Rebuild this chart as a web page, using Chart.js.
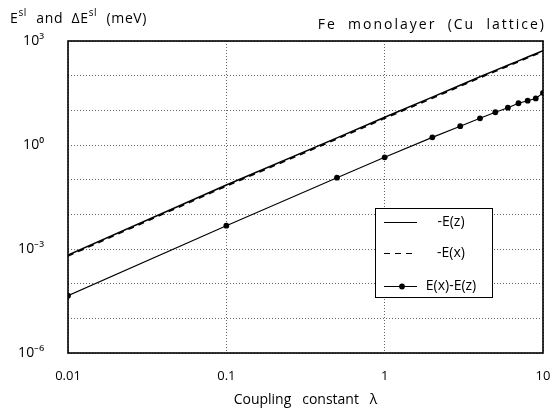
<!DOCTYPE html>
<html>
<head>
<meta charset="utf-8">
<script src="https://cdn.jsdelivr.net/npm/chart.js@4.4.1/dist/chart.umd.min.js"></script>
<style>
  html, body { margin: 0; padding: 0; background: #fff; }
  #wrap { width: 552px; height: 410px; position: relative; }
</style>
</head>
<body>
<div id="wrap"><canvas id="slChart"></canvas></div>
<script>
  // ── Data ──
  var lambdas = [0.01, 0.1, 0.5, 1, 2, 3, 4, 5, 6, 7, 8, 9, 10];
  var minusEz = [6.7e-4, 0.07, 1.6, 6.3, 24, 53, 93, 142, 200, 268, 345, 430, 525];
  var minusEx = [6.25e-4, 0.065, 1.49, 5.85, 22.3, 49.5, 87, 133, 188, 252, 326, 408, 493];
  var deltaE  = [4.5e-5, 4.7e-3, 0.114, 0.44, 1.66, 3.5, 5.9, 8.8, 11.9, 16, 19, 22, 32];

  var xTicks = [0.01, 0.1, 1, 10];
  var yTicks = [1e3, 1e2, 1e1, 1e0, 1e-1, 1e-2, 1e-3, 1e-4, 1e-5, 1e-6];
  var yTickLabels = { '3': '10\u00b3', '0': '10\u2070', '-3': '10\u207b\u00b3', '-6': '10\u207b\u2076' };

  var FONT = 'Open Sans';

  function points(ys) {
    return lambdas.map(function(l, i) { return { x: l, y: ys[i] }; });
  }

  // frame round the plot area
  var framePlugin = {
    id: 'frame',
    afterDatasetsDraw: function(chart) {
      var a = chart.chartArea, c = chart.ctx;
      c.save();
      c.strokeStyle = '#000';
      c.lineWidth = 1.6;
      c.strokeRect(a.left, a.top, a.right - a.left, a.bottom - a.top);
      c.restore();
    }
  };

  // legend box inside the plot
  var boxLegend = {
    id: 'boxLegend',
    afterDatasetsDraw: function(chart) {
      var c = chart.ctx;
      var bx = 375.5, by = 208.5, bw = 117, bh = 89;
      var rows = [222.5, 253.5, 286.5];
      c.save();
      c.fillStyle = '#fff';
      c.fillRect(bx, by, bw, bh);
      c.strokeStyle = '#000';
      c.lineWidth = 1;
      c.strokeRect(bx, by, bw, bh);
      chart.data.datasets.forEach(function(ds, i) {
        var y = rows[i];
        c.beginPath();
        c.setLineDash(ds.borderDash || []);
        c.strokeStyle = ds.borderColor;
        c.lineWidth = 1;
        c.moveTo(384, y);
        c.lineTo(417, y);
        c.stroke();
        c.setLineDash([]);
        if (ds.pointRadius > 0) {
          c.beginPath();
          c.fillStyle = ds.pointBackgroundColor;
          c.arc(402, y, ds.pointRadius, 0, Math.PI * 2);
          c.fill();
        }
        c.fillStyle = '#000';
        c.font = '14px "' + FONT + '"';
        c.textAlign = 'center';
        c.textBaseline = 'middle';
        c.fillText(ds.label, 451, y);
      });
      c.restore();
    }
  };

  // header texts: y quantity and panel title
  var headers = {
    id: 'headers',
    afterDraw: function(chart) {
      var c = chart.ctx;
      c.save();
      c.fillStyle = '#000';
      c.textBaseline = 'alphabetic';
      c.textAlign = 'left';
      c.letterSpacing = '0.6px';
      var parts = [['E', 0], ['sl', 1], ['  and  \u0394E', 0], ['sl', 1], ['  (meV)', 0]];
      var x = 10;
      parts.forEach(function(p) {
        c.font = (p[1] ? '10px "' : '14px "') + FONT + '"';
        c.fillText(p[0], x, p[1] ? 16 : 23);
        x += c.measureText(p[0]).width + (p[1] ? 1 : 0);
      });
      c.font = '14px "' + FONT + '"';
      c.letterSpacing = '2px';
      c.textAlign = 'right';
      c.fillText('Fe  monolayer  (Cu  lattice)', 546, 29);
      c.restore();
    }
  };

  var gridStyle = {
    color: '#666',
    lineWidth: 1,
    drawTicks: false
  };

  var ctx = document.getElementById('slChart').getContext('2d');
  var chart = new Chart(ctx, {
    type: 'line',
    data: {
      datasets: [{
        label: '-E(z)',
        data: points(minusEz),
        borderColor: '#000',
        borderWidth: 1.5,
        pointRadius: 0,
        tension: 0
      }, {
        label: '-E(x)',
        data: points(minusEx),
        borderColor: '#000',
        borderWidth: 1.5,
        borderDash: [6, 5],
        pointRadius: 0,
        tension: 0
      }, {
        label: 'E(x)-E(z)',
        data: points(deltaE),
        borderColor: '#000',
        borderWidth: 1.1,
        pointRadius: 2.9,
        pointBackgroundColor: '#000',
        pointBorderWidth: 0,
        tension: 0
      }]
    },
    options: {
      responsive: true,
      maintainAspectRatio: false,
      animation: false,
      layout: { padding: { left: 0, right: 9, top: 41, bottom: 0 } },
      plugins: {
        legend: { display: false },
        tooltip: { enabled: false }
      },
      scales: {
        x: {
          type: 'logarithmic',
          min: 0.01,
          max: 10,
          afterBuildTicks: function(s) { s.ticks = xTicks.map(function(v) { return { value: v }; }); },
          afterFit: function(s) { s.height = 57; s.paddingLeft = 0; s.paddingRight = 0; },
          grid: gridStyle,
          border: { display: false, dash: [1, 2] },
          ticks: {
            autoSkip: false,
            maxRotation: 0,
            padding: 15,
            color: '#000',
            font: { family: FONT, size: 13 },
            callback: function(v) { return String(v); }
          },
          title: {
            display: true,
            text: 'Coupling   constant   \u03bb',
            color: '#000',
            font: { family: FONT, size: 14 },
            padding: { top: 0, bottom: 2 }
          }
        },
        y: {
          type: 'logarithmic',
          min: 1e-6,
          max: 1e3,
          afterBuildTicks: function(s) { s.ticks = yTicks.map(function(v) { return { value: v }; }); },
          afterFit: function(s) { s.width = 68; s.paddingTop = 0; s.paddingBottom = 0; },
          grid: gridStyle,
          border: { display: false, dash: [1, 2] },
          ticks: {
            autoSkip: false,
            padding: 24,
            color: '#000',
            font: { family: FONT, size: 14 },
            callback: function(v) {
              var e = Math.round(Math.log10(v));
              return yTickLabels[String(e)] || '';
            }
          }
        }
      }
    },
    plugins: [framePlugin, boxLegend, headers]
  });
</script>
</body>
</html>
